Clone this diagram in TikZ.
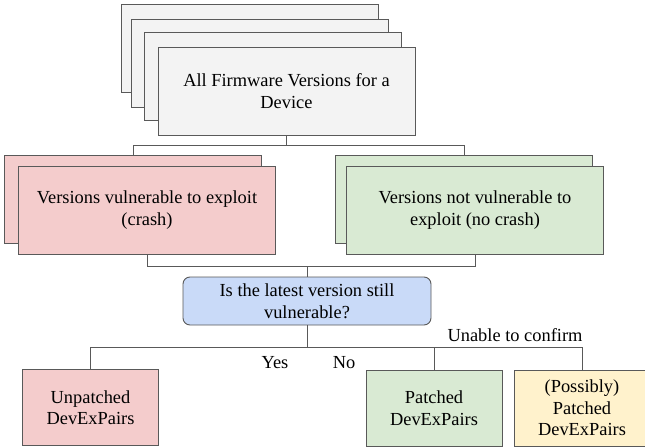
\documentclass[tikz,border=0pt]{standalone}
\usepackage{fontspec}
\setmainfont{Liberation Serif}
\usepackage{xcolor}
\usepackage{tikz}

\definecolor{boxgray}{HTML}{F3F3F3}
\definecolor{boxred}{HTML}{F4CCCC}
\definecolor{boxgreen}{HTML}{D9EAD3}
\definecolor{boxblue}{HTML}{C9DAF8}
\definecolor{boxyellow}{HTML}{FFF2CC}
\definecolor{edge}{HTML}{595959}

\begin{document}
\begin{tikzpicture}[x=1pt, y=-1pt,
    every node/.style={align=center, inner sep=0pt, font=\fontsize{18.4}{21.5}\selectfont},
    card/.style={rectangle, draw=edge, line width=0.9pt, minimum width=257pt, minimum height=88pt},
    leaf/.style={rectangle, draw=edge, line width=0.9pt, minimum width=136pt, minimum height=76pt},
    wire/.style={draw=edge, line width=0.9pt}]
    \useasboundingbox (0,0) rectangle (645,447);

    % stack of firmware versions
    \node[card, fill=boxgray] (fw1) at (249.5, 48) {};
    \node[card, fill=boxgray] (fw2) at (259.5, 63) {};
    \node[card, fill=boxgray] (fw3) at (273, 76.5) {};
    \node[card, fill=boxgray] (fw) at (286.5, 91) {All Firmware Versions for a\\Device};

    \node[card, fill=boxred] (vulback) at (133, 199.5) {};
    \node[card, fill=boxred] (vul) at (147, 210) {Versions vulnerable to exploit\\(crash)};
    \node[card, fill=boxgreen] (safeback) at (464, 199.5) {};
    \node[card, fill=boxgreen] (safe) at (475, 210) {Versions not vulnerable to\\exploit (no crash)};

    \node[rectangle, rounded corners=7pt, draw=edge, line width=0.9pt, fill=boxblue,
          minimum width=248pt, minimum height=48pt] (latest) at (307, 301) {Is the latest version still\\vulnerable?};

    \node[leaf, fill=boxred] (unpatched) at (90.5, 407.5) {Unpatched\\DevExPairs};
    \node[leaf, fill=boxgreen] (patched) at (434, 408) {Patched\\DevExPairs};
    \node[leaf, fill=boxyellow] (maybe) at (582, 408) {(Possibly)\\Patched\\DevExPairs};

    \node (yes) at (275, 363) {Yes};
    \node (no) at (344, 363) {No};
    \node (unsure) at (515, 335) {Unable to confirm};

    \draw[wire] (fw.south) -- ++(0,10) -| (vulback.north);
    \draw[wire] (fw.south) -- ++(0,10) -| (safeback.north);
    \draw[wire] (vul.south) -- ++(0,12) -| (latest.north);
    \draw[wire] (safe.south) -- ++(0,12) -| (latest.north);
    \draw[wire] (latest.south) -- ++(0,22) -| (unpatched.north);
    \draw[wire] (latest.south) -- ++(0,22) -| (patched.north);
    \draw[wire] (latest.south) -- ++(0,22) -| (maybe.north);
\end{tikzpicture}
\end{document}
